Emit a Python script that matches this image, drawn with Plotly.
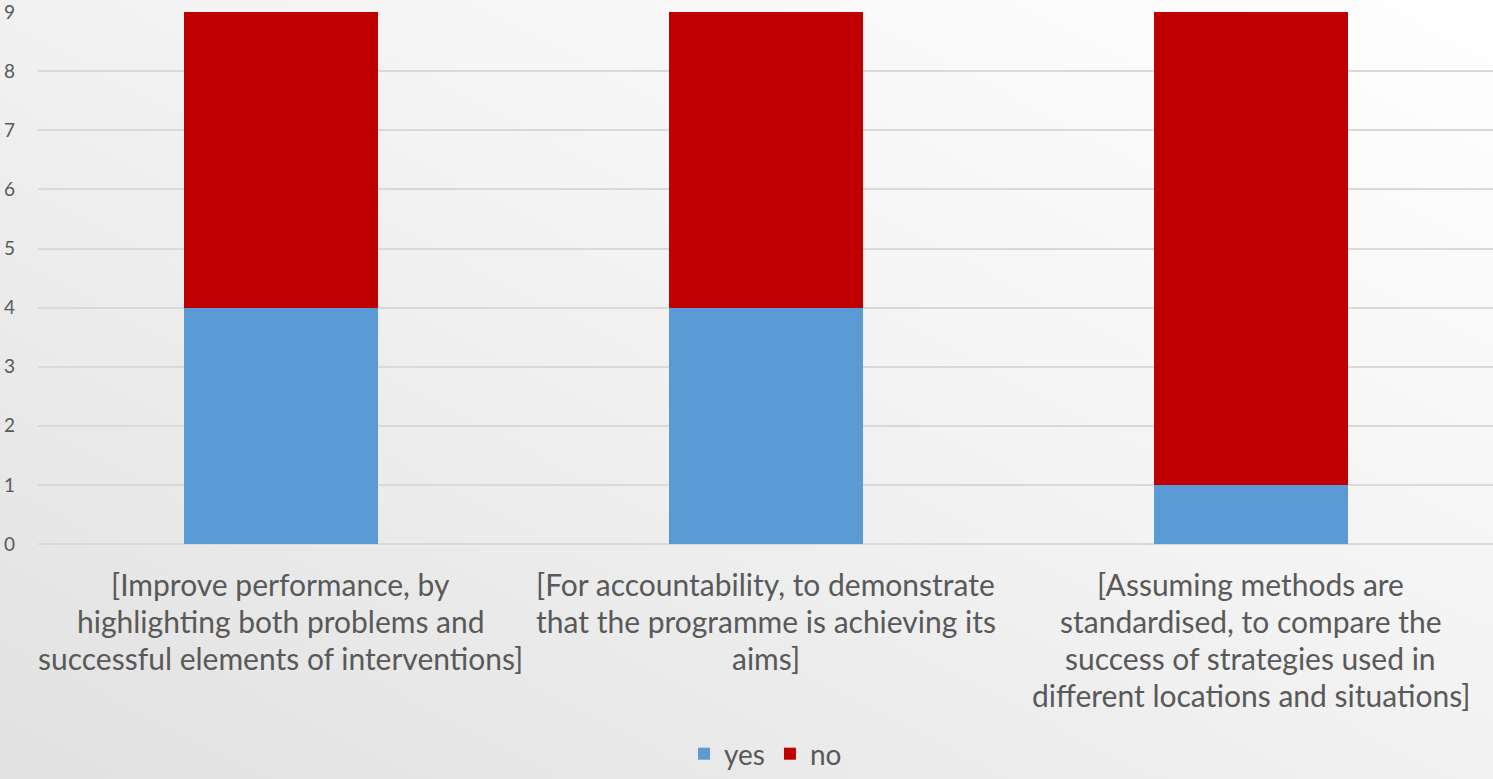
import urllib.parse
import plotly.graph_objects as go

categories = [
    "[Improve performance, by<br>highlighting both problems and<br>successful elements of interventions]",
    "[For accountability, to demonstrate<br>that the programme is achieving its<br>aims]",
    "[Assuming methods are<br>standardised, to compare the<br>success of strategies used in<br>different locations and situations]",
]
yes_values = [4, 4, 1]
no_values = [5, 5, 8]
y_ticks = [0, 1, 2, 3, 4, 5, 6, 7, 8, 9]

W, H = 1493, 779
M_L, M_R, M_T, M_B = 38, 0, 12, 235
plot_w = W - M_L - M_R
plot_h = H - M_T - M_B

FONT = "Lato"
TEXT_COLOR = "#595959"
LABEL_SIZE = 30
LINE_GAP = 37

fig = go.Figure()
fig.add_trace(go.Bar(x=list(range(len(categories))), y=yes_values, name="yes",
                     marker=dict(color="#5B9BD5", line=dict(width=0)), width=0.4))
fig.add_trace(go.Bar(x=list(range(len(categories))), y=no_values, name="no",
                     marker=dict(color="#C00000", line=dict(width=0)), width=0.4))

# Category labels, one annotation per line so the line spacing can be set
annotations = []
for i, label in enumerate(categories):
    for j, line in enumerate(label.split("<br>")):
        annotations.append(dict(
            x=i, xref="x", y=0, yref="paper", yanchor="middle", xanchor="center",
            yshift=-(40 + j * LINE_GAP), text=line, showarrow=False,
            font=dict(family=FONT, size=LABEL_SIZE, color=TEXT_COLOR),
        ))

# Soft diagonal background gradient covering the whole figure
svg = (
    "<svg xmlns='http://www.w3.org/2000/svg' width='1493' height='779' viewBox='0 0 1493 779' preserveAspectRatio='none'>"
    "<defs><linearGradient id='g' x1='1' y1='0' x2='0' y2='1'>"
    "<stop offset='0' stop-color='#ffffff'/>"
    "<stop offset='0.45' stop-color='#f3f3f3'/>"
    "<stop offset='1' stop-color='#e1e1e1'/>"
    "</linearGradient></defs>"
    "<rect width='1493' height='779' fill='url(#g)'/></svg>"
)
bg_src = "data:image/svg+xml;charset=utf-8," + urllib.parse.quote(svg)

fig.update_layout(
    width=W, height=H,
    margin=dict(l=M_L, r=M_R, t=M_T, b=M_B, pad=0, autoexpand=False),
    barmode="stack",
    paper_bgcolor="#f0f0f0",
    plot_bgcolor="rgba(0,0,0,0)",
    showlegend=True,
    legend=dict(orientation="h", x=0.5, xanchor="center", yref="container", y=-0.009,
                yanchor="bottom", font=dict(family=FONT, size=28, color=TEXT_COLOR),
                bgcolor="rgba(0,0,0,0)", traceorder="normal", tracegroupgap=0),
    xaxis=dict(range=[-0.5, 2.5], showticklabels=False, showgrid=False, zeroline=False,
               showline=False, ticks=""),
    yaxis=dict(range=[0, 9.004], tickvals=y_ticks, showgrid=True, gridcolor="#d9d9d9", gridwidth=1.5,
               zeroline=True, zerolinecolor="#d9d9d9", zerolinewidth=1.5, showline=False,
               ticks="", ticklabelstandoff=22, ticklabeloverflow="allow",
               tickfont=dict(family=FONT, size=19, color=TEXT_COLOR)),
    annotations=annotations,
    images=[dict(source=bg_src, xref="paper", yref="paper",
                 x=-M_L / plot_w, y=1 + M_T / plot_h, sizex=W / plot_w, sizey=H / plot_h,
                 xanchor="left", yanchor="top", sizing="stretch", layer="below")],
)

fig.write_html("out.html")
